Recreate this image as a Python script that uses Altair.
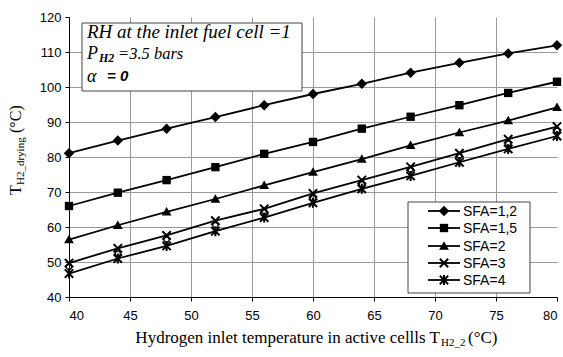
import altair as alt
import pandas as pd

# ---- data ----
x_vals = [40, 44, 48, 52, 56, 60, 64, 68, 72, 76, 80]
sfa_12 = [81.1, 84.7, 88.1, 91.4, 94.8, 98.0, 100.9, 104.1, 106.9, 109.6, 111.9]
sfa_15 = [66.0, 69.8, 73.4, 77.1, 80.9, 84.3, 88.1, 91.5, 94.8, 98.3, 101.5]
sfa_2 = [56.4, 60.5, 64.3, 68.0, 71.9, 75.7, 79.4, 83.3, 87.0, 90.4, 94.2]
sfa_3 = [49.7, 53.9, 57.6, 61.8, 65.2, 69.6, 73.4, 77.2, 81.1, 85.1, 88.7]
sfa_4 = [46.7, 51.0, 54.6, 58.8, 62.7, 66.9, 70.9, 74.6, 78.5, 82.3, 86.0]
# small hollow circles drawn next to the SFA=3 markers (no legend entry)
circle_vals = [48.6, 52.4, 56.4, 60.5, 64.4, 68.2, 72.2, 76.4, 80.4, 83.8, 87.5]

series_names = ["SFA=1,2", "SFA=1,5", "SFA=2", "SFA=3", "SFA=4"]
series_vals = [sfa_12, sfa_15, sfa_2, sfa_3, sfa_4]

x_ticks = [40, 45, 50, 55, 60, 65, 70, 75, 80]
y_ticks = [40, 50, 60, 70, 80, 90, 100, 110, 120]

# ---- styles ----
paths = {
    "SFA=1,2": ("M0,-1L1,0L0,1L-1,0Z", True, 110),
    "SFA=1,5": ("M-1,-1L1,-1L1,1L-1,1Z", True, 70),
    "SFA=2": ("M0,-1L1,0.75L-1,0.75Z", True, 95),
    "SFA=3": ("M-1,-1L1,1M-1,1L1,-1", False, 70),
    "SFA=4": ("M-1,-1L1,1M-1,1L1,-1M0,-1.2L0,1.2", False, 70),
}

rows = []
for name, vals in zip(series_names, series_vals):
    for xv, yv in zip(x_vals, vals):
        rows.append({"x": xv, "y": yv, "series": name})
df = pd.DataFrame(rows)
df_circ = pd.DataFrame({"x": x_vals, "y": circle_vals})

W, H = 488, 280
X = alt.X("x:Q", scale=alt.Scale(domain=[40, 80], nice=False, zero=False),
          axis=alt.Axis(values=x_ticks, title=None, format="d",
                        gridOpacity={"condition": {"test": "datum.value >= 80", "value": 0}, "value": 1}))
Y = alt.Y("y:Q", scale=alt.Scale(domain=[40, 120], nice=False, zero=False),
          axis=alt.Axis(values=y_ticks, title=None, format="d",
                        gridOpacity={"condition": {"test": "datum.value >= 120", "value": 0}, "value": 1}))

base = alt.Chart(df)
layers = []
layers.append(base.mark_line(color="black", strokeWidth=1.8).encode(x=X, y=Y, detail="series:N"))
for name in series_names:
    p, filled, size = paths[name]
    sub = base.transform_filter(alt.datum.series == name)
    if filled:
        m = sub.mark_point(filled=True, color="black", opacity=1, size=size, shape=p)
    else:
        m = sub.mark_point(filled=False, color="black", opacity=1, size=size, shape=p, strokeWidth=2)
    layers.append(m.encode(x=X, y=Y))
layers.append(alt.Chart(df_circ).mark_point(shape="circle", filled=False, color="black",
                                             opacity=1, size=28, strokeWidth=1.4).encode(x=X, y=Y))

one = alt.Chart(pd.DataFrame({"a": [0]}))

# annotation box (pixel positions relative to plot origin)
layers.append(one.mark_rect(fill="white", stroke="#444", strokeWidth=1).encode(
    x=alt.value(13), x2=alt.value(233), y=alt.value(6), y2=alt.value(74)))
serif = "Liberation Serif"
layers.append(one.mark_text(text="RH at the inlet fuel cell =1", font=serif, fontStyle="italic",
                            fontSize=19, align="left", baseline="alphabetic", color="black").encode(
    x=alt.value(18), y=alt.value(21)))
layers.append(one.mark_text(text="P", font=serif, fontStyle="italic", fontSize=18, align="left",
                            baseline="alphabetic", color="black").encode(x=alt.value(18), y=alt.value(42)))
layers.append(one.mark_text(text="H2", font=serif, fontStyle="italic", fontWeight="bold", fontSize=12,
                            align="left", baseline="alphabetic", color="black").encode(
    x=alt.value(30), y=alt.value(45)))
layers.append(one.mark_text(text="=3.5 bars", font=serif, fontStyle="italic", fontSize=16.5, align="left",
                            baseline="alphabetic", color="black").encode(x=alt.value(49), y=alt.value(42)))
layers.append(one.mark_text(text="α", font=serif, fontStyle="italic", fontSize=18, align="left",
                            baseline="alphabetic", color="black").encode(x=alt.value(18), y=alt.value(65)))
layers.append(one.mark_text(text="= 0", font="Liberation Sans", fontStyle="italic", fontWeight="bold",
                            fontSize=15, align="left", baseline="alphabetic", color="black").encode(
    x=alt.value(38), y=alt.value(64)))

# legend box
layers.append(one.mark_rect(fill="white", stroke="#444", strokeWidth=1).encode(
    x=alt.value(339), x2=alt.value(461), y=alt.value(185), y2=alt.value(276)))
row_y = [194, 211, 229, 246, 263]
for name, ry in zip(series_names, row_y):
    p, filled, size = paths[name]
    layers.append(one.mark_rule(color="black", strokeWidth=1.8).encode(
        x=alt.value(359), x2=alt.value(391), y=alt.value(ry)))
    if filled:
        lm = one.mark_point(filled=True, color="black", opacity=1, size=size, shape=p)
    else:
        lm = one.mark_point(filled=False, color="black", opacity=1, size=size, shape=p, strokeWidth=2)
    layers.append(lm.encode(x=alt.value(375), y=alt.value(ry)))
    layers.append(one.mark_text(text=name, font="Liberation Sans", fontSize=14, align="left",
                                baseline="middle", color="black").encode(
        x=alt.value(394), y=alt.value(ry + 1)))

# x-axis title
layers.append(one.mark_text(text="Hydrogen inlet temperature in active cellls T", font=serif, fontSize=17,
                            align="right", baseline="alphabetic", color="black").encode(
    x=alt.value(371), y=alt.value(326)))
layers.append(one.mark_text(text="H2_2", font=serif, fontSize=11, align="left",
                            baseline="alphabetic", color="black").encode(x=alt.value(372), y=alt.value(329)))
layers.append(one.mark_text(text="(°C)", font=serif, fontSize=17, align="left",
                            baseline="alphabetic", color="black").encode(x=alt.value(399), y=alt.value(326)))

# y-axis title (rotated, reads bottom to top)
layers.append(one.mark_text(text="T", font=serif, fontSize=16, angle=270, align="left",
                            baseline="alphabetic", color="black").encode(x=alt.value(-48), y=alt.value(178)))
layers.append(one.mark_text(text="H2_drying", font=serif, fontSize=11, angle=270, align="left",
                            baseline="alphabetic", color="black").encode(x=alt.value(-45), y=alt.value(168)))
layers.append(one.mark_text(text="(°C)", font=serif, fontSize=16, angle=270, align="left",
                            baseline="alphabetic", color="black").encode(x=alt.value(-48), y=alt.value(116)))

chart = alt.layer(*layers).properties(
    width=W, height=H,
    autosize=alt.AutoSizeParams(type="none"),
    padding={"left": 69, "top": 17, "right": 6, "bottom": 60},
    background="white",
).configure_view(stroke=None).configure_axis(
    labelFont="Liberation Sans", labelFontSize=13, labelColor="black",
    domainColor="black", domainWidth=1, tickColor="black", tickSize=4,
    gridColor="#9a9a9a", gridWidth=1, labelPadding=4,
).configure_axisX(labelPadding=8)

chart.save("out.html", embed_options={"renderer": "svg", "actions": False})
